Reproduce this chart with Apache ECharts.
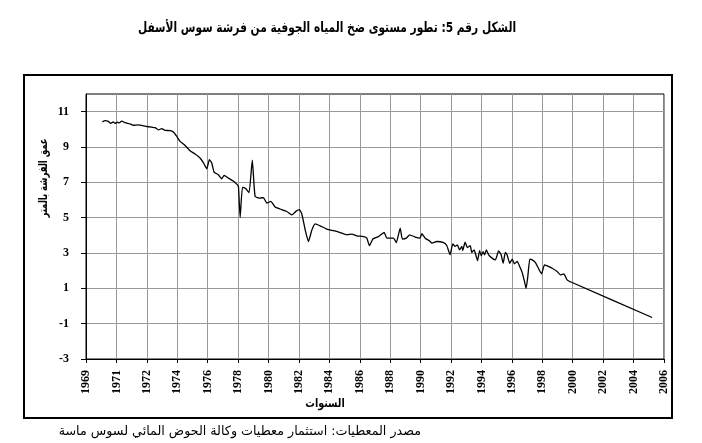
<!DOCTYPE html>
<html><head><meta charset="utf-8">
<script src="https://cdn.jsdelivr.net/npm/echarts@6/dist/echarts.min.js"></script>
<style>html,body{margin:0;padding:0;background:#fff}#c{width:702px;height:443px}</style>
</head><body><div id="c"></div>
<script>
const years = [1970.12,1970.29,1970.5,1970.65,1970.82,1970.93,1971.08,1971.2,1971.36,1971.57,1971.89,1972.1,1972.42,1972.75,1972.96,1973.28,1973.5,1973.71,1973.93,1974.14,1974.46,1974.67,1974.89,1975.1,1975.42,1975.74,1976.06,1976.38,1976.6,1976.81,1976.98,1977.13,1977.28,1977.55,1977.77,1977.92,1978.2,1978.48,1978.73,1978.84,1978.95,1979.1,1979.3,1979.52,1979.73,1979.91,1980.23,1980.44,1980.66,1980.92,1981.19,1981.51,1981.94,1982.26,1982.54,1982.75,1982.9,1983.12,1983.33,1983.55,1983.76,1984.08,1984.51,1984.94,1985.36,1985.79,1986.11,1986.43,1986.86,1987.07,1987.24,1987.46,1987.82,1988.18,1988.36,1988.78,1988.96,1989.21,1989.35,1989.6,1989.82,1990.17,1990.47,1990.6,1990.81,1991.1,1991.24,1991.56,1991.99,1992.2,1992.41,1992.58,1992.73,1992.88,1993.01,1993.16,1993.22,1993.37,1993.52,1993.7,1993.8,1993.95,1994.04,1994.17,1994.3,1994.41,1994.52,1994.62,1994.73,1994.88,1995.1,1995.31,1995.52,1995.68,1995.81,1995.95,1996.06,1996.23,1996.39,1996.53,1996.71,1996.87,1997.03,1997.18,1997.28,1997.39,1997.52,1997.67,1997.88,1998.1,1998.27,1998.46,1998.63,1998.95,1999.27,1999.48,1999.7,1999.91,2000.23,2005.36];
const levels = [10.42,10.49,10.45,10.34,10.42,10.34,10.40,10.36,10.47,10.38,10.31,10.23,10.25,10.20,10.16,10.12,10.10,9.97,10.04,9.94,9.93,9.85,9.60,9.32,9.09,8.79,8.60,8.38,8.10,7.77,8.28,8.10,7.58,7.43,7.20,7.39,7.24,7.09,6.90,6.77,5.01,6.71,6.65,6.41,8.26,6.20,6.11,6.14,5.83,5.92,5.60,5.49,5.35,5.16,5.37,5.45,5.22,4.31,3.65,4.31,4.65,4.54,4.35,4.26,4.16,4.03,4.07,3.97,3.93,3.84,3.41,3.79,3.93,4.16,3.84,3.84,3.59,4.41,3.79,3.84,4.03,3.90,3.84,4.09,3.84,3.68,3.56,3.65,3.59,3.41,2.90,3.52,3.37,3.46,3.18,3.37,3.14,3.62,3.31,3.41,3.03,3.18,2.94,2.57,3.14,2.84,3.08,2.90,3.18,2.90,2.71,2.61,3.12,2.90,2.42,3.03,2.90,2.42,2.65,2.39,2.52,2.23,1.89,1.38,1.00,1.67,2.65,2.61,2.46,2.08,1.82,2.33,2.27,2.14,1.95,1.76,1.82,1.48,1.33,-0.65];
const xTickLabels = ['1969','1971','1972','1974','1976','1978','1980','1982','1984','1986','1988','1990','1992','1994','1996','1998','2000','2002','2004','2006'];
const yTickValues = [-3,-1,1,3,5,7,9,11];
const xStart = 1969.07, xStep = 1.95;
const xTickValues = xTickLabels.map((_, i) => +(xStart + i * xStep).toFixed(4));

const titleText = 'الشكل رقم 5: تطور مستوى ضخ المياه الجوفية من فرشة سوس الأسفل';
const xName = 'السنوات';
const yName = 'عمق الفرشة بالمتر';
const sourceText = 'مصدر المعطيات: استثمار معطيات وكالة الحوض المائي لسوس ماسة';

const chart = echarts.init(document.getElementById('c'), null, {renderer: 'canvas'});
const serif = 'Liberation Serif';
chart.setOption({
  backgroundColor: '#fff',
  animation: false,
  grid: {left: 86, right: 38, top: 94, bottom: 84, show: true, borderColor: '#000', borderWidth: 1, backgroundColor: 'transparent'},
  xAxis: {
    type: 'value', min: xStart, max: xTickValues[xTickValues.length - 1],
    axisLine: {show: true, onZero: false, lineStyle: {color: '#000', width: 1}},
    axisTick: {show: true, customValues: xTickValues, length: 4, lineStyle: {color: '#000'}},
    axisLabel: {customValues: xTickValues, rotate: 90, margin: 11, fontFamily: serif, fontWeight: 'bold', fontSize: 12, color: '#000',
      formatter: v => xTickLabels[Math.round((v - xStart) / xStep)]},
    splitLine: {show: true, lineStyle: {color: '#999', width: 1}}
  },
  yAxis: {
    type: 'value', min: -3, max: 12,
    axisLine: {show: true, onZero: false, lineStyle: {color: '#000', width: 1}},
    axisTick: {show: true, customValues: yTickValues, length: 5, lineStyle: {color: '#000'}},
    axisLabel: {customValues: yTickValues, margin: 17, fontFamily: serif, fontWeight: 'bold', fontSize: 12, color: '#000'},
    splitLine: {show: true, lineStyle: {color: '#999', width: 1}}
  },
  series: [{
    type: 'line', data: years.map((y, i) => [y, levels[i]]), showSymbol: false, smooth: 0.15,
    lineStyle: {color: '#000', width: 1.3}
  }],
  graphic: [
    {type: 'rect', shape: {x: 24, y: 75, width: 648, height: 343}, style: {fill: 'none', stroke: '#000', lineWidth: 2}, z: 100},
    {type: 'text', x: 327, y: 28, scaleX: 0.76, style: {text: titleText, font: 'bold 14px "DejaVu Sans"', fill: '#000', textAlign: 'center', textVerticalAlign: 'middle'}},
    {type: 'text', x: 325, y: 404, scaleX: 0.8, style: {text: xName, font: 'bold 12px "DejaVu Sans"', fill: '#000', textAlign: 'center', textVerticalAlign: 'middle'}},
    {type: 'text', x: 44, y: 178, rotation: Math.PI / 2, scaleX: 0.7, style: {text: yName, font: 'bold 12px "DejaVu Sans"', fill: '#000', textAlign: 'center', textVerticalAlign: 'middle'}},
    {type: 'text', x: 421, y: 432, style: {text: sourceText, font: '12.7px "DejaVu Sans"', fill: '#000', textAlign: 'right', textVerticalAlign: 'middle'}}
  ]
});
</script></body></html>
